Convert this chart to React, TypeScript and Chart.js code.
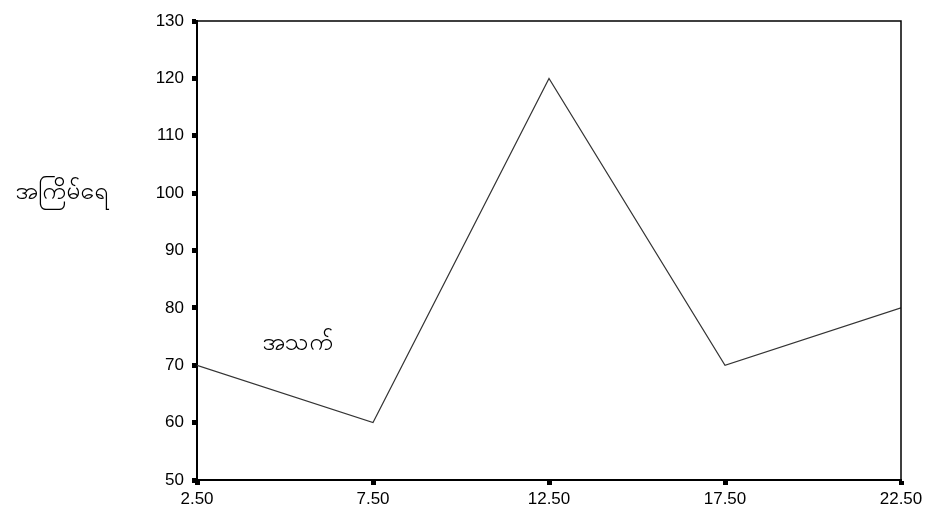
import React, { useEffect, useRef } from "react";
import { Chart, registerables } from "chart.js";

Chart.register(...registerables);

const ageValues = [2.5, 7.5, 12.5, 17.5, 22.5];
const frequencyValues = [70, 60, 120, 70, 80];
const xTickValues = [2.5, 7.5, 12.5, 17.5, 22.5];
const yAxisTitle = "အကြိမ်ရေ";
const xAxisTitle = "အသက်";

const FONT = "'Liberation Sans', Arial, sans-serif";

const framePlugin = {
  id: "frameAndTitles",
  afterDraw(chart: any) {
    const { ctx, chartArea, scales } = chart;
    ctx.save();
    ctx.strokeStyle = "#000";
    ctx.lineWidth = 1.5;
    ctx.beginPath();
    ctx.moveTo(chartArea.left, chartArea.top);
    ctx.lineTo(chartArea.right, chartArea.top);
    ctx.lineTo(chartArea.right, chartArea.bottom);
    ctx.stroke();

    ctx.fillStyle = "#000";
    ctx.font = "25px 'Noto Sans', 'DejaVu Sans', sans-serif";
    ctx.textAlign = "center";
    ctx.textBaseline = "middle";
    ctx.fillText(yAxisTitle, 61, scales.y.getPixelForValue(100.3));
    ctx.fillText(xAxisTitle, scales.x.getPixelForValue(5.35), scales.y.getPixelForValue(73.9));
    ctx.restore();
  },
};

export default function App() {
  const ref = useRef<HTMLCanvasElement>(null);
  useEffect(() => {
    document.body.style.margin = "0";
    const chart = new Chart(ref.current!, {
      type: "line",
      data: {
        datasets: [
          {
            data: ageValues.map((x, i) => ({ x, y: frequencyValues[i] })),
            borderColor: "#333",
            borderWidth: 1.2,
            pointRadius: 0,
            fill: false,
            tension: 0,
          },
        ],
      },
      options: {
        responsive: false,
        animation: false,
        layout: { padding: { top: 21, right: 28, left: 0, bottom: 0 } },
        plugins: { legend: { display: false }, tooltip: { enabled: false } },
        scales: {
          x: {
            type: "linear",
            min: 2.5,
            max: 22.5,
            afterBuildTicks: (scale: any) => {
              scale.ticks = xTickValues.map((v) => ({ value: v }));
            },
            afterFit: (scale: any) => {
              scale.height = 38;
            },
            border: { display: true, color: "#000", width: 2 },
            grid: { drawOnChartArea: false, drawTicks: true, tickLength: 5, tickWidth: 5, tickColor: "#000" },
            ticks: {
              color: "#000",
              font: { family: FONT, size: 17 },
              padding: 4,
              maxRotation: 0,
              autoSkip: false,
              callback: (v: any) => Number(v).toFixed(2),
            },
          },
          y: {
            type: "linear",
            min: 50,
            max: 130,
            afterFit: (scale: any) => {
              scale.width = 197;
            },
            border: { display: true, color: "#000", width: 2 },
            grid: { drawOnChartArea: false, drawTicks: true, tickLength: 5, tickWidth: 5, tickColor: "#000" },
            ticks: {
              stepSize: 10,
              color: "#000",
              font: { family: FONT, size: 17 },
              padding: 8,
            },
          },
        },
      },
      plugins: [framePlugin],
    });
    return () => chart.destroy();
  }, []);
  return (
    <canvas
      ref={ref}
      width={929}
      height={518}
      style={{ position: "absolute", left: 0, top: 0, width: 929, height: 518 }}
    />
  );
}
